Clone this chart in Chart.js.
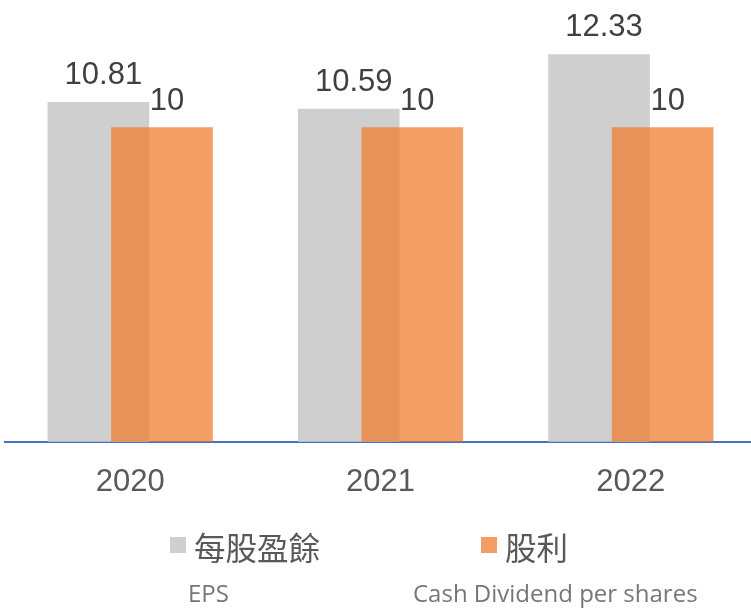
<!DOCTYPE html>
<html>
<head>
<meta charset="utf-8">
<script src="https://cdn.jsdelivr.net/npm/chart.js@4"></script>
<style>
  html, body { margin: 0; padding: 0; background: #fff; overflow: hidden; }
  #wrap { position: relative; width: 751px; height: 613px; }
  #chart { position: absolute; left: 0; top: 0; }
  .lg { position: absolute; white-space: nowrap; }
  .box { position: absolute; width: 16px; height: 16px; }
  .cjk { font-family: "Noto Sans CJK TC", "Noto Sans CJK SC", sans-serif; font-size: 31.5px; line-height: 31px; color: #595959; }
  .sub { font-family: "Open Sans", "Noto Sans", sans-serif; font-size: 24px; line-height: 24px; color: #767676; }
</style>
</head>
<body>
<div id="wrap">
  <canvas id="chart" width="751" height="613"></canvas>
  <div id="legend"></div>
</div>
<script>
var years = [2020, 2021, 2022];
var epsValues = [10.81, 10.59, 12.33];
var dividendValues = [10, 10, 10];
var seriesNames = ['每股盈餘', '股利'];
var seriesSubNames = ['EPS', 'Cash Dividend per shares'];

// bars of one year sit side by side with a partial overlap
var barShift = 0.127;

function toPoints(values, shift) {
    return values.map(function (v, i) { return { x: years[i] + shift, y: v }; });
}

var labelPlugin = {
    id: 'valueLabels',
    afterDatasetsDraw: function (chart) {
        var ctx = chart.ctx;
        ctx.save();
        ctx.font = '31px "Liberation Sans", Arial, sans-serif';
        ctx.fillStyle = '#404040';
        ctx.textAlign = 'center';
        ctx.textBaseline = 'alphabetic';
        chart.data.datasets.forEach(function (ds, di) {
            chart.getDatasetMeta(di).data.forEach(function (bar, i) {
                ctx.fillText(String(ds.data[i].y), bar.x + 5, bar.y - 18);
            });
        });
        ctx.restore();
    }
};

var ctx = document.getElementById('chart');
var chart = new Chart(ctx, {
    type: 'bar',
    data: {
        datasets: [{
            label: seriesNames[0],
            data: toPoints(epsValues, -barShift),
            backgroundColor: '#CFCFCF',
            order: 2
        }, {
            label: seriesNames[1],
            data: toPoints(dividendValues, barShift),
            backgroundColor: 'rgba(237,125,49,0.75)',
            order: 1
        }]
    },
    options: {
        responsive: false,
        animation: false,
        events: [],
        layout: { padding: { left: 5, right: 0, top: 2, bottom: 90 } },
        datasets: { bar: { barThickness: 101, grouped: false } },
        plugins: { legend: { display: false }, tooltip: { enabled: false } },
        scales: {
            x: {
                type: 'linear',
                offset: false,
                min: 2019.5,
                max: 2022.48,
                afterBuildTicks: function (s) { s.ticks = years.map(function (v) { return { value: v }; }); },
                grid: { display: false, drawTicks: false },
                border: { display: true, color: '#4472C4', width: 2 },
                ticks: {
                    padding: 22,
                    color: '#595959',
                    font: { family: '"Liberation Sans", Arial, sans-serif', size: 31 },
                    callback: function (v) { return String(v); }
                }
            },
            y: {
                display: false,
                min: 0,
                max: 14
            }
        }
    },
    plugins: [labelPlugin]
});

// html legend built from the datasets
var legendPos = [{ box: 170, text: 194, sub: 188 }, { box: 481, text: 505, sub: 413 }];
var legend = document.getElementById('legend');
chart.data.datasets.forEach(function (ds, i) {
    var p = legendPos[i];
    var box = document.createElement('div');
    box.className = 'box';
    box.style.left = p.box + 'px';
    box.style.top = '537px';
    box.style.background = ds.backgroundColor;
    legend.appendChild(box);
    var t = document.createElement('div');
    t.className = 'lg cjk';
    t.style.left = p.text + 'px';
    t.style.top = '531px';
    t.textContent = ds.label;
    legend.appendChild(t);
    var s = document.createElement('div');
    s.className = 'lg sub';
    s.style.left = p.sub + 'px';
    s.style.top = '581px';
    s.textContent = seriesSubNames[i];
    legend.appendChild(s);
});
</script>
</body>
</html>
